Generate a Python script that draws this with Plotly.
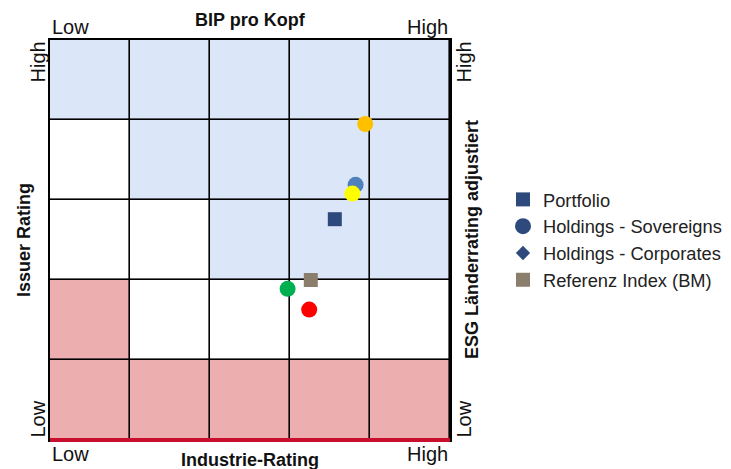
import plotly.graph_objects as go

# Background zone matrix (rows from bottom to top): 0 = white, 1 = blue, 2 = red
zone_rows = [
    [2, 2, 2, 2, 2],
    [2, 0, 0, 0, 0],
    [0, 0, 1, 1, 1],
    [0, 1, 1, 1, 1],
    [1, 1, 1, 1, 1],
]
cell_centers = [0.5, 1.5, 2.5, 3.5, 4.5]

# Holdings - Sovereigns (x = Industrie/BIP scale, y = Issuer/ESG scale)
sov_x = [3.94, 3.82, 3.78, 2.97, 3.24]
sov_y = [3.95, 3.19, 3.08, 1.89, 1.63]
sov_colors = ["#FFC000", "#4F81BD", "#FFFF00", "#00B050", "#FF0000"]

portfolio_x = [3.56]
portfolio_y = [2.76]
bm_x = [3.26]
bm_y = [2.00]

legend_names = ["Portfolio", "Holdings - Sovereigns", "Holdings - Corporates", "Referenz Index (BM)"]
legend_symbols = ["square", "circle", "diamond", "square"]
legend_colors = ["#2E4A7D", "#2E4A7D", "#2E4A7D", "#8C7E6C"]
legend_sizes = [14, 17, 11, 14]

fig = go.Figure()
fig.add_trace(go.Heatmap(
    z=zone_rows, x=cell_centers, y=cell_centers,
    zmin=0, zmax=2,
    colorscale=[[0, "#FFFFFF"], [0.333, "#FFFFFF"], [0.333, "#DCE6F9"], [0.666, "#DCE6F9"],
                [0.666, "#ECAEAE"], [1, "#ECAEAE"]],
    showscale=False, xgap=1.6, ygap=1.6, hoverinfo="skip",
))
fig.add_trace(go.Scatter(x=sov_x, y=sov_y, mode="markers", showlegend=False,
                         marker=dict(size=16, color=sov_colors, symbol="circle")))
fig.add_trace(go.Scatter(x=portfolio_x, y=portfolio_y, mode="markers", showlegend=False,
                         marker=dict(size=14, color=legend_colors[0], symbol="square")))
fig.add_trace(go.Scatter(x=bm_x, y=bm_y, mode="markers", showlegend=False,
                         marker=dict(size=14, color=legend_colors[3], symbol="square")))
for name, sym, col, sz in zip(legend_names, legend_symbols, legend_colors, legend_sizes):
    fig.add_trace(go.Scatter(x=[None], y=[None], mode="markers", name=name,
                             marker=dict(size=sz, color=col, symbol=sym)))

axis_common = dict(range=[0, 5], showgrid=False, zeroline=False, showticklabels=False,
                   ticks="", showline=True, linecolor="black", linewidth=1.5, mirror=True,
                   fixedrange=True)
fig.update_xaxes(**axis_common)
fig.update_yaxes(**axis_common)

tick_font = dict(family="Liberation Sans, Arial", size=20, color="#111111")
title_font = dict(family="Liberation Sans, Arial", size=18, color="#111111")

ann = []
# top
ann.append(dict(text="Low", x=0, y=1, xanchor="left", yanchor="bottom", font=tick_font))
ann.append(dict(text="High", x=1, y=1, xanchor="right", yanchor="bottom", font=tick_font))
ann.append(dict(text="<b>BIP pro Kopf</b>", x=0.5, y=1, xanchor="center", yanchor="bottom", yshift=8, font=title_font))
# bottom
ann.append(dict(text="Low", x=0, y=0, xanchor="left", yanchor="top", yshift=-1, font=tick_font))
ann.append(dict(text="High", x=1, y=0, xanchor="right", yanchor="top", yshift=-1, font=tick_font))
ann.append(dict(text="<b>Industrie-Rating</b>", x=0.5, y=0, xanchor="center", yanchor="top", yshift=-8, font=title_font))
# left
ann.append(dict(text="High", x=0, y=1, xanchor="right", yanchor="top", textangle=-90, font=tick_font))
ann.append(dict(text="Low", x=0, y=0, xanchor="right", yanchor="bottom", textangle=-90, font=tick_font))
ann.append(dict(text="<b>Issuer Rating</b>", x=0, y=0.5, xanchor="right", yanchor="middle", xshift=-14, textangle=-90, font=title_font))
# right
ann.append(dict(text="High", x=1, y=1, xanchor="left", yanchor="top", textangle=-90, font=tick_font))
ann.append(dict(text="Low", x=1, y=0, xanchor="left", yanchor="bottom", textangle=-90, font=tick_font))
ann.append(dict(text="<b>ESG Länderrating adjustiert</b>", x=1, y=0.5, xanchor="left", yanchor="middle", xshift=10, textangle=-90, font=title_font))
for a in ann:
    a.update(xref="paper", yref="paper", showarrow=False)

fig.update_layout(
    width=760, height=469,
    margin=dict(l=42, r=318, t=32, b=37),
    paper_bgcolor="white", plot_bgcolor="black",
    annotations=ann,
    shapes=[dict(type="line", xref="paper", yref="paper", x0=0, x1=1, y0=0, y1=0,
                 line=dict(color="#C8102E", width=4), layer="above")],
    legend=dict(x=1.1325, y=0.5, xanchor="left", yanchor="middle", bgcolor="rgba(0,0,0,0)",
                font=dict(family="Liberation Sans, Arial", size=18.3, color="#222222"),
                itemsizing="trace", tracegroupgap=0),
)

fig.write_html("out.html")
